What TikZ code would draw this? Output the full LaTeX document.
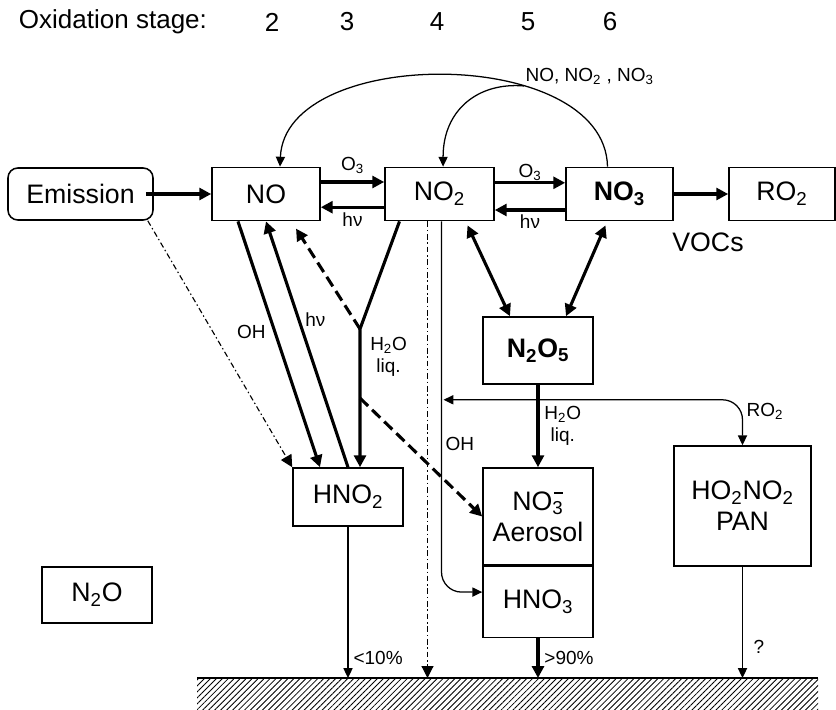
\documentclass[tikz,border=0pt]{standalone}
\usepackage{fontspec}
\setmainfont{Liberation Sans}
\usetikzlibrary{arrows.meta,calc,patterns.meta}
\newcommand{\boxfont}{\fontsize{19}{22}\selectfont}
\newcommand{\lblfont}{\fontsize{13.5}{15.5}\selectfont}
\newcommand{\ttlfont}{\fontsize{18.5}{21}\selectfont}
\newcommand{\anionbar}{\llap{\rule[0.6em]{0.32em}{0.07em}\hspace{0.04em}}}

\begin{document}
\begin{tikzpicture}[x=0.025cm,y=-0.025cm,>={Triangle[length=8.5pt,width=8.5pt]},
  box/.style={draw,line width=1.1pt,font=\boxfont,align=center,inner sep=0pt,minimum width=2.75cm},
  flow/.style={line width=2.2pt},
  slim/.style={line width=0.9pt,>={Triangle[length=7pt,width=6.5pt]}},
  dashflow/.style={line width=2.2pt,dash pattern=on 8pt off 4pt},
  dashdot/.style={line width=0.8pt,dash pattern=on 4pt off 2pt on 1pt off 2pt},
  lbl/.style={font=\lblfont,inner sep=1.5pt}]
\useasboundingbox (0,0) rectangle (836,710);

% oxidation stages
\node[font=\ttlfont,anchor=west] (ttl) at (14,22) {Oxidation stage:};
\foreach \n/\x in {2/272,3/347,4/437,5/528,6/610}
  \node[font=\ttlfont] (st\n) at (\x,22) {\n};

% boxes
\node[box,rounded corners=7pt,minimum width=3.625cm,minimum height=1.3cm] (emis) at (80.5,194) {Emission};
\node[box,minimum width=2.7cm,minimum height=1.33cm] (no) at (266,194) {NO};
\node[box,minimum width=2.725cm,minimum height=1.33cm] (no2) at (439.5,194) {NO\textsubscript{2}};
\node[box,minimum width=2.675cm,minimum height=1.33cm] (no3) at (619.5,194) {\textbf{NO\textsubscript{3}}};
\node[box,minimum width=2.65cm,minimum height=1.33cm] (ro2) at (782,194) {RO\textsubscript{2}};
\node[box,minimum height=1.675cm] (n2o5) at (538,350.5) {\textbf{N\textsubscript{2}O\textsubscript{5}}};
\node[box,minimum height=1.45cm] (hno2) at (348,497) {HNO\textsubscript{2}};
\node[box,minimum height=2.425cm] (aer) at (538,516.5) {NO\textsubscript{3}\anionbar\\Aerosol};
\node[box,minimum height=1.775cm,anchor=north] (hno3) at (aer.south) {HNO\textsubscript{3}};
\node[box,minimum width=3.425cm,minimum height=3cm] (pan) at (742.5,506) {HO\textsubscript{2}NO\textsubscript{2}\\PAN};
\node[box,minimum height=1.4cm] (n2o) at (97,595) {N\textsubscript{2}O};

% ground
\coordinate (gnd) at (500,678);
\fill[pattern={Lines[angle=45,distance=3pt,line width=0.6pt]}] (197,678) rectangle (818,710);
\draw[line width=1.2pt] (197,678) -- (818,678);

% recycling arcs
\draw[slim,->] ([xshift=-0.3cm]no3.north) .. controls (605,45) and (285,45) .. ([xshift=0.35cm]no.north)
  coordinate[pos=0.33] (arcj);
\draw[slim,->] (arcj) .. controls (478,82) and (443,110) .. ([xshift=0.09cm]no2.north);
\node[lbl,anchor=south west,inner sep=1pt] (lnox) at (arcj) {NO, NO\textsubscript{2} , NO\textsubscript{3}};

% top row
\draw[flow,->] ([xshift=-0.2cm]emis.east) -- (no.west);
\draw[flow,->] ([yshift=0.3cm]no.east) -- ([yshift=0.3cm]no2.west)
  node[lbl,midway,above=3pt] (lo3a) {O\textsubscript{3}};
\draw[flow,->] ([yshift=-0.33cm]no2.west) -- ([yshift=-0.33cm]no.east)
  node[lbl,midway,below=1pt] (lhva) {hν};
\draw[flow,->] ([yshift=0.28cm]no2.east) -- ([yshift=0.28cm]no3.west)
  node[lbl,midway,above=-1pt] (lo3b) {O\textsubscript{3}};
\draw[flow,->] ([yshift=-0.4cm]no3.west) -- ([yshift=-0.4cm]no2.east)
  node[lbl,midway,below=1pt] (lhvb) {hν};
\draw[flow,->] (no3.east) -- (ro2.west);
\node[font=\boxfont] (lvoc) at (708,242) {VOCs};

% NO <-> HNO2
\draw[dashdot,->] ([xshift=-0.15cm]emis.south east) -- (hno2.north west);
\draw[flow,->] ([xshift=-0.7cm]no.south) -- ([xshift=-0.7cm]hno2.north)
  node[lbl,pos=0.45,left=4pt] (loh) {OH};
\draw[flow,->] (hno2.north) -- (no.south)
  node[lbl,pos=0.6,right=2pt] (lhvc) {hν};
\coordinate (jn) at (360,329);
\draw[flow,->] ([xshift=-1cm]no2.south) -- (jn) -- (jn |- hno2.north);
\node[lbl,align=center,anchor=north west,inner sep=0pt] (lliq) at ($(jn)+(10,8)$) {H\textsubscript{2}O\\liq.};
\draw[dashflow,->] (jn) -- ([xshift=0.75cm,yshift=-0.18cm]no.south);
\draw[dashflow,->] ($(jn)!0.5!(jn |- hno2.north)$) -- (aer.west);

% NO2 branches
\coordinate (dd) at ([xshift=-0.3cm]no2.south);
\draw[dashdot,->] (dd) -- (dd |- gnd);
\draw[slim,->,rounded corners=0.5cm] ([xshift=0.05cm]no2.south) |- ([yshift=0.25cm]hno3.west)
  node[lbl,pos=0.3,right=1pt] (loh2) {OH};
\coordinate (rr) at ($(n2o5.south)+(0,15)$);
\draw[slim,<->,rounded corners=0.5cm] ([xshift=0.1cm]no2.south |- rr) -| (pan.north)
  node[lbl,pos=0.63,right=1pt] (lro2) {RO\textsubscript{2}};

% N2O5
\draw[flow,<->] ([xshift=0.7cm,yshift=-0.1cm]no2.south) -- ([xshift=-0.7cm]n2o5.north);
\draw[flow,<->] ([xshift=-0.35cm,yshift=-0.1cm]no3.south) -- ([xshift=0.7cm]n2o5.north);
\draw[flow,->] (n2o5.south) -- (aer.north)
  node[lbl,midway,right=2pt,align=center] (lliq2) {H\textsubscript{2}O\\liq.};

% deposition
\draw[slim,->] (hno2.south) -- (hno2.south |- gnd)
  node[lbl,pos=0.87,right=2pt] (ldep1) {<10\%};
\draw[flow,->] (hno3.south) -- (hno3.south |- gnd)
  node[lbl,midway,right=2pt] (ldep2) {>90\%};
\draw[slim,->] (pan.south) -- (pan.south |- gnd)
  node[lbl,pos=0.72,right=6pt] (ldep3) {?};
\end{tikzpicture}
\end{document}
